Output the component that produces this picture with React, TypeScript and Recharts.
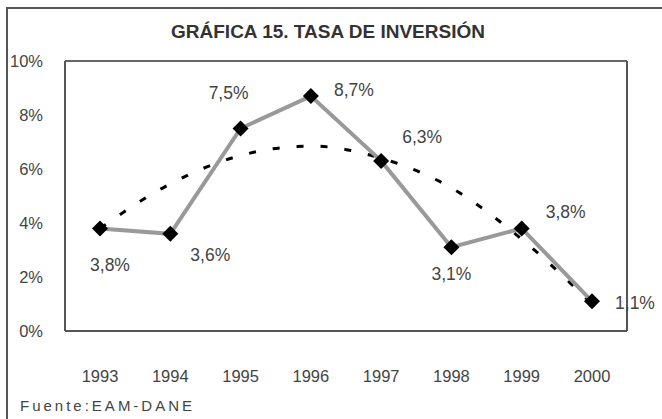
import React from "react";
import { CartesianGrid, Line, LineChart, XAxis, YAxis } from "recharts";

// Tasa de inversión (%), 1993-2000
const years = ["1993", "1994", "1995", "1996", "1997", "1998", "1999", "2000"];
const tasa = [3.8, 3.6, 7.5, 8.7, 6.3, 3.1, 3.8, 1.1];
// tendencia polinómica (línea punteada)
const tendencia = [3.8, 5.45, 6.5, 6.85, 6.4, 5.3, 3.4, 1.0];
const yTicks = [0, 2, 4, 6, 8, 10];

// desplazamiento de cada etiqueta respecto a su marcador (px)
const labelOffsets: [number, number][] = [
  [10, 37],
  [40, 21],
  [-12, -36],
  [43, -6],
  [41, -24],
  [0, 27],
  [44, -16],
  [43, 2],
];

const FONT = "'Liberation Sans', Arial, sans-serif";
const TEXT = "#444";

const data = years.map((year, i) => ({ year, tasa: tasa[i], tendencia: tendencia[i] }));

const fmt = (v: number) => `${v.toFixed(1).replace(".", ",")}%`;

function Diamond(props: any) {
  const { cx, cy, index } = props;
  if (cx == null || cy == null) return null;
  const r = 8;
  return (
    <polygon
      key={`d-${index}`}
      points={`${cx},${cy - r} ${cx + r},${cy} ${cx},${cy + r} ${cx - r},${cy}`}
      fill="#000"
    />
  );
}

function PointLabel(props: any) {
  const { x, y, value, index } = props;
  const [dx, dy] = labelOffsets[index] ?? [0, -15];
  return (
    <text
      x={x + dx}
      y={y + dy}
      textAnchor="middle"
      dominantBaseline="central"
      fontFamily={FONT}
      fontSize={17.5}
      fill={TEXT}
    >
      {fmt(value)}
    </text>
  );
}

export default function App() {
  return (
    <div style={{ position: "absolute", left: 0, top: 0, width: 662, height: 419, overflow: "hidden", background: "#fff" }}>
      {/* marco exterior */}
      <div
        style={{
          position: "absolute",
          left: 6,
          top: 7,
          width: 662,
          height: 419,
          borderLeft: "2px solid #555",
          borderTop: "2px solid #555",
        }}
      />
      <div
        style={{
          position: "absolute",
          left: 0,
          top: 21,
          width: 656,
          textAlign: "center",
          fontFamily: FONT,
          fontWeight: "bold",
          fontSize: 19,
          color: "#333",
        }}
      >
        GRÁFICA 15. TASA DE INVERSIÓN
      </div>
      <div
        style={{
          position: "absolute",
          left: 20,
          top: 397,
          fontFamily: FONT,
          fontSize: 15,
          letterSpacing: 3,
          color: TEXT,
        }}
      >
        Fuente:EAM-DANE
      </div>
      <LineChart
        width={662}
        height={419}
        data={data}
        margin={{ top: 61, right: 34, bottom: 38, left: 0 }}
        style={{ position: "absolute", left: 0, top: 0 }}
      >
        <CartesianGrid vertical={false} stroke="#333" strokeWidth={1.5} />
        <XAxis
          dataKey="year"
          height={50}
          padding={{ left: 35, right: 35 }}
          axisLine={{ stroke: "#555", strokeWidth: 2 }}
          tickLine={false}
          tickSize={0}
          tickMargin={39}
          tick={{ fontFamily: FONT, fontSize: 16.5, fill: TEXT }}
        />
        <YAxis
          yAxisId="left"
          width={65}
          domain={[0, 10]}
          ticks={yTicks}
          interval={0}
          tickFormatter={(v) => `${v}%`}
          axisLine={{ stroke: "#555", strokeWidth: 2 }}
          tickLine={false}
          tickSize={0}
          tickMargin={22}
          tick={{ fontFamily: FONT, fontSize: 16.5, fill: TEXT }}
        />
        <YAxis
          yAxisId="right"
          orientation="right"
          width={1}
          domain={[0, 10]}
          tick={false}
          tickLine={false}
          axisLine={{ stroke: "#555", strokeWidth: 2 }}
        />
        <Line
          yAxisId="left"
          dataKey="tendencia"
          type="monotone"
          stroke="#000"
          strokeWidth={3}
          strokeDasharray="7 17"
          dot={false}
          activeDot={false}
          isAnimationActive={false}
        />
        <Line
          yAxisId="left"
          dataKey="tasa"
          type="linear"
          stroke="#999"
          strokeWidth={4}
          dot={<Diamond />}
          activeDot={false}
          label={<PointLabel />}
          isAnimationActive={false}
        />
      </LineChart>
    </div>
  );
}
